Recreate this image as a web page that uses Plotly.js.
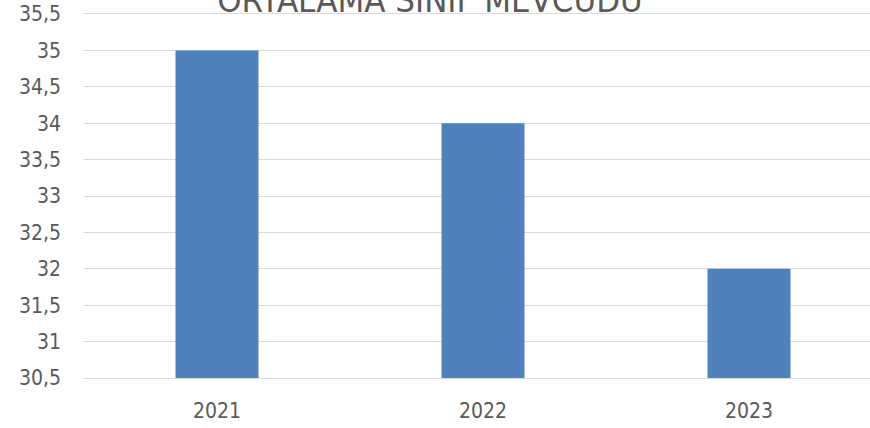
<!DOCTYPE html>
<html>
<head>
<meta charset="utf-8">
<script src="https://cdn.plot.ly/plotly-3.0.1.min.js"></script>
<style>html,body{margin:0;padding:0;background:#fff;}#chart{width:870px;height:428px;}</style>
</head>
<body>
<div id="chart"></div>
<script>
const years = ['2021', '2022', '2023'];
const values = [35, 34, 32];
const yTicks = [30.5, 31, 31.5, 32, 32.5, 33, 33.5, 34, 34.5, 35, 35.5];
const titleText = 'ORTALAMA SINIF MEVCUDU';

const FONT = '"Liberation Sans Narrow", "DejaVu Sans Condensed", Arial, sans-serif';

Plotly.newPlot('chart', [{
  type: 'bar',
  x: [0, 1, 2],
  y: values,
  marker: {color: '#4F81BD', line: {width: 0}},
  hoverinfo: 'none'
}], {
  width: 870, height: 428,
  margin: {l: 84, r: 0, t: 13.5, b: 50, pad: 0},
  paper_bgcolor: '#fff', plot_bgcolor: '#fff',
  separators: ', ',
  bargap: 0.688,
  showlegend: false,
  font: {family: FONT, color: '#595959', size: 21},
  title: {
    text: titleText,
    font: {family: FONT, size: 34.5, color: '#595959'},
    x: 430 / 870, xanchor: 'center', xref: 'container',
    y: (428 - 11.5) / 428, yanchor: 'bottom', yref: 'container'
  },
  xaxis: {
    tickvals: [0, 1, 2], ticktext: years,
    range: [-0.5, 2.455],
    showgrid: false, zeroline: false,
    showline: true, linecolor: '#d9d9d9', linewidth: 1, mirror: true,
    ticks: '', ticklabelstandoff: 14,
    tickfont: {family: FONT, size: 21, color: '#595959'},
    fixedrange: true
  },
  yaxis: {
    range: [30.5, 35.5],
    tickvals: yTicks,
    showgrid: true, gridcolor: '#d9d9d9', gridwidth: 1,
    zeroline: false, showline: false,
    ticks: '', ticklabelstandoff: 22,
    tickfont: {family: FONT, size: 21, color: '#595959'},
    fixedrange: true
  }
}, {displayModeBar: false, staticPlot: true});
</script>
</body>
</html>
